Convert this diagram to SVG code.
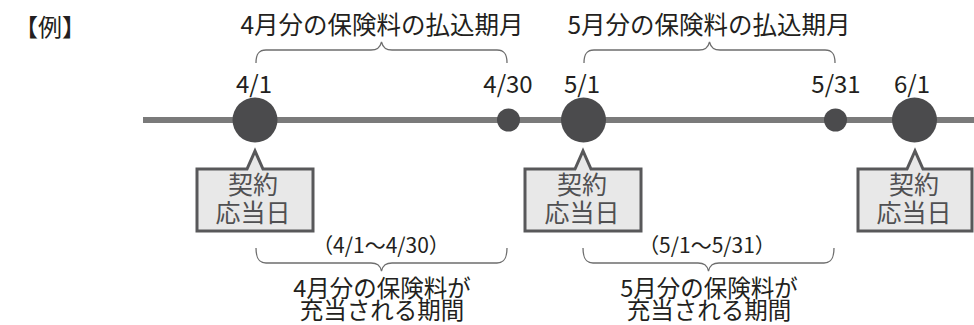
<svg xmlns="http://www.w3.org/2000/svg" width="974" height="325" viewBox="0 0 974 325">
<style>
text{font-family:"Noto Sans CJK JP","Noto Sans",sans-serif;fill:#231f20;text-anchor:middle}
.t{font-size:24.5px}
.b{font-size:23.5px}
.d{font-size:24px}
.p{font-size:21px}
.bx{font-size:25px;fill:#505052}
.brace{fill:none;stroke:#6e6e6e;stroke-width:1.3}
.big{fill:#4b4b4d}
.small{fill:#4b4b4d}
.call{fill:#e8e8e8;stroke:#58585a;stroke-width:3;stroke-linejoin:miter}
</style>
<rect width="974" height="325" fill="#ffffff"/>
<text x="14" y="36" style="font-size:24px;text-anchor:start">【例】</text>

<g id="connectors">
<line x1="143" y1="120" x2="974" y2="120" stroke="#7a7a7a" stroke-width="6"/>
<path class="brace" d="M256,63 C256,55 258,50 266,50 L371,50 C377,50 380,48 381.5,42 C383,48 386,50 392,50 L497,50 C505,50 507,55 507,63"/>
<path class="brace" d="M584,63 C584,55 586,50 594,50 L699,50 C705,50 708,48 709.5,42 C711,48 714,50 720,50 L825,50 C833,50 835,55 835,63"/>
<path class="brace" d="M256,248 C256,257 258,263 266,263 L371,263 C377,263 380,265 381.5,271 C383,265 386,263 392,263 L497,263 C505,263 507,257 507,248"/>
<path class="brace" d="M583,248 C583,257 585,263 593,263 L698,263 C704,263 707,265 708.5,271 C710,265 713,263 719,263 L824,263 C832,263 834,257 834,248"/>
</g>

<g id="title-apr"><text class="t" x="382" y="34">4月分の保険料の払込期月</text></g>
<g id="title-may"><text class="t" x="709" y="34">5月分の保険料の払込期月</text></g>

<g id="node-0401">
<circle class="big" cx="255" cy="120" r="22.5"/>
<text class="d" x="254" y="93">4/1</text>
</g>
<g id="node-0430">
<circle class="small" cx="508.5" cy="120" r="11.5"/>
<text class="d" x="508" y="93">4/30</text>
</g>
<g id="node-0501">
<circle class="big" cx="583.5" cy="120" r="22.5"/>
<text class="d" x="582" y="93">5/1</text>
</g>
<g id="node-0531">
<circle class="small" cx="835.5" cy="120" r="11.5"/>
<text class="d" x="836" y="93">5/31</text>
</g>
<g id="node-0601">
<circle class="big" cx="914.5" cy="120" r="22.5"/>
<text class="d" x="912" y="93">6/1</text>
</g>

<g id="callout-1">
<path class="call" d="M197,169 L247,169 L255,151 L263,169 L313,169 L313,231 L197,231 Z"/>
<text class="bx" x="253" y="194">契約</text>
<text class="bx" x="253" y="222">応当日</text>
</g>
<g id="callout-2">
<path class="call" d="M525,169 L575,169 L583,151 L591,169 L641,169 L641,231 L525,231 Z"/>
<text class="bx" x="582" y="194">契約</text>
<text class="bx" x="582" y="222">応当日</text>
</g>
<g id="callout-3">
<path class="call" d="M858,169 L907,169 L915,151 L923,169 L972,169 L972,231 L858,231 Z"/>
<text class="bx" x="914" y="194">契約</text>
<text class="bx" x="914" y="222">応当日</text>
</g>

<g id="period-apr">
<text class="p" x="381" y="253">（4/1～4/30）</text>
<text class="b" x="382" y="297">4月分の保険料が</text>
<text class="b" x="382" y="319">充当される期間</text>
</g>
<g id="period-may">
<text class="p" x="707" y="253">（5/1～5/31）</text>
<text class="b" x="709" y="297">5月分の保険料が</text>
<text class="b" x="709" y="319">充当される期間</text>
</g>
</svg>
